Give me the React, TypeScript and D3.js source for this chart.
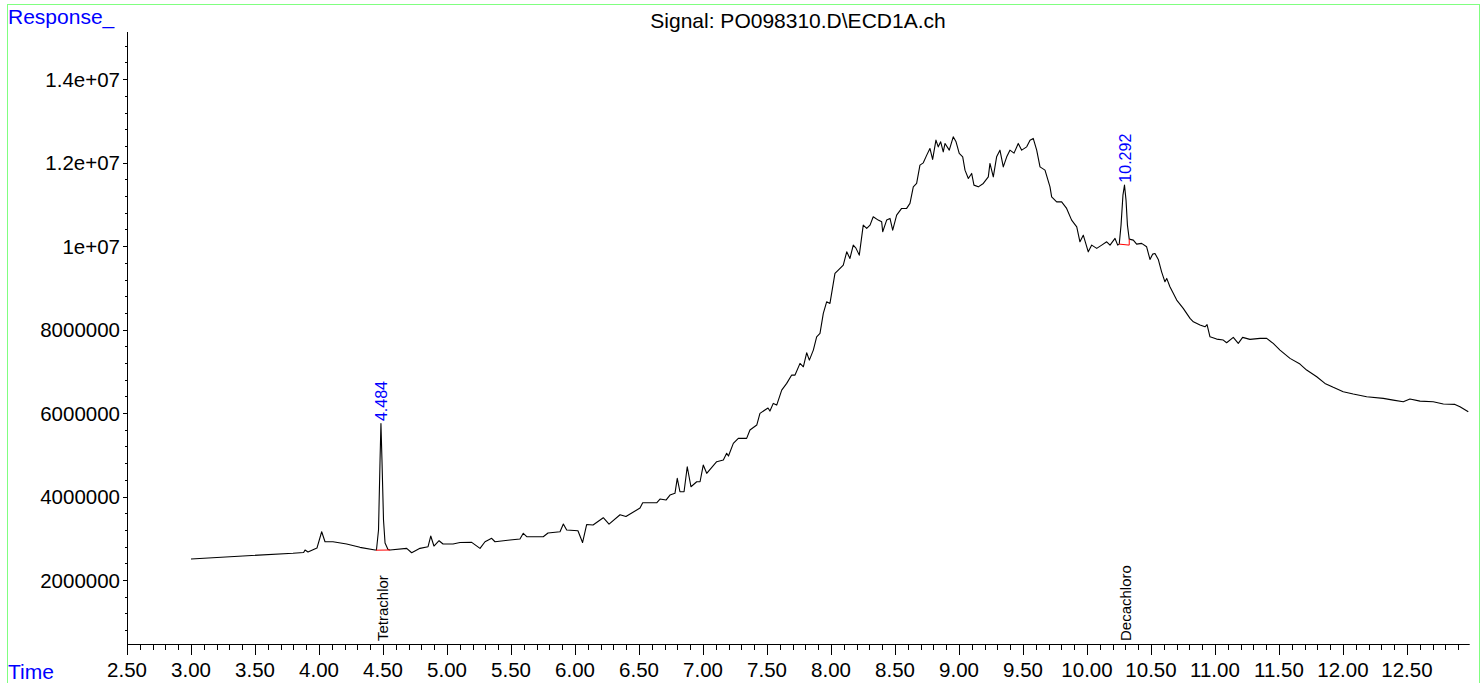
import React from "react";
import * as d3 from "d3";

// ---- Data ----
const timesMin = [
  3.000, 3.406, 3.797, 3.880, 3.891, 3.914, 3.984, 4.021, 4.047, 4.109, 4.216, 4.320, 4.438,
  4.449, 4.465, 4.477, 4.484, 4.492, 4.504, 4.516, 4.539, 4.555, 4.685, 4.724, 4.789, 4.852,
  4.873, 4.898, 4.938, 4.969, 5.047, 5.102, 5.193, 5.258, 5.297, 5.349, 5.375, 5.492, 5.570,
  5.596, 5.623, 5.752, 5.789, 5.883, 5.909, 5.935, 6.023, 6.059, 6.091, 6.141, 6.221, 6.266,
  6.352, 6.398, 6.508, 6.529, 6.638, 6.664, 6.711, 6.742, 6.781, 6.799, 6.820, 6.852, 6.877,
  6.906, 6.951, 6.977, 7.002, 7.029, 7.107, 7.159, 7.185, 7.199, 7.237, 7.276, 7.341, 7.367,
  7.420, 7.445, 7.484, 7.508, 7.523, 7.549, 7.576, 7.615, 7.654, 7.693, 7.719, 7.758, 7.784,
  7.810, 7.831, 7.862, 7.888, 7.914, 7.940, 7.966, 7.992, 8.031, 8.057, 8.096, 8.123, 8.148,
  8.174, 8.195, 8.221, 8.252, 8.279, 8.305, 8.330, 8.369, 8.396, 8.404, 8.435, 8.461, 8.482,
  8.513, 8.552, 8.591, 8.617, 8.643, 8.669, 8.695, 8.721, 8.748, 8.773, 8.794, 8.820, 8.838,
  8.857, 8.877, 8.891, 8.924, 8.955, 8.977, 9.002, 9.029, 9.047, 9.073, 9.099, 9.117, 9.151,
  9.190, 9.229, 9.242, 9.268, 9.294, 9.320, 9.346, 9.373, 9.398, 9.430, 9.463, 9.490, 9.529,
  9.555, 9.580, 9.607, 9.633, 9.672, 9.711, 9.724, 9.763, 9.802, 9.841, 9.880, 9.920, 9.945,
  9.971, 10.010, 10.037, 10.076, 10.115, 10.154, 10.180, 10.219, 10.240, 10.252, 10.266,
  10.281, 10.293, 10.305, 10.316, 10.330, 10.362, 10.388, 10.427, 10.466, 10.492, 10.513,
  10.531, 10.557, 10.583, 10.609, 10.623, 10.648, 10.701, 10.752, 10.805, 10.831, 10.883,
  10.922, 10.938, 10.961, 11.013, 11.065, 11.091, 11.143, 11.182, 11.216, 11.273, 11.352,
  11.404, 11.455, 11.508, 11.586, 11.664, 11.716, 11.795, 11.859, 11.924, 12.002, 12.080,
  12.185, 12.315, 12.393, 12.471, 12.523, 12.602, 12.705, 12.784, 12.875, 12.914, 12.979,
];

// response in millions of counts
const responseMillions = [
  2.503, 2.575, 2.640, 2.660, 2.719, 2.671, 2.766, 3.157, 2.917, 2.917, 2.862, 2.783, 2.719,
  2.719, 3.198, 4.874, 5.749, 4.874, 3.437, 2.886, 2.731, 2.719, 2.759, 2.654, 2.759, 2.798,
  3.054, 2.814, 2.941, 2.862, 2.862, 2.898, 2.903, 2.759, 2.917, 2.999, 2.917, 2.958, 2.982,
  3.119, 3.037, 3.037, 3.126, 3.157, 3.341, 3.198, 3.181, 2.898, 3.329, 3.317, 3.492, 3.341,
  3.564, 3.521, 3.725, 3.851, 3.851, 3.940, 3.916, 4.036, 4.077, 4.436, 4.115, 4.115, 4.714,
  4.235, 4.354, 4.354, 4.754, 4.556, 4.834, 4.874, 5.035, 4.970, 5.274, 5.394, 5.394, 5.593,
  5.713, 5.993, 6.072, 6.120, 6.048, 6.232, 6.192, 6.551, 6.711, 6.910, 6.910, 7.190, 7.109,
  7.444, 7.269, 7.509, 7.828, 7.909, 8.388, 8.666, 8.628, 9.346, 9.425, 9.545, 9.863, 9.705,
  10.024, 9.952, 9.784, 10.503, 10.424, 10.503, 10.702, 10.623, 10.582, 10.343, 10.623, 10.663, 10.383,
  10.743, 10.903, 10.903, 11.023, 11.420, 11.502, 11.940, 11.995, 12.180, 12.340, 12.077, 12.539, 12.378,
  12.498, 12.259, 12.460, 12.299, 12.618, 12.498, 12.220, 12.139, 11.820, 11.621, 11.741, 11.461, 11.420,
  11.502, 11.660, 11.981, 11.660, 12.139, 12.299, 11.899, 12.139, 12.299, 12.228, 12.460, 12.299, 12.378,
  12.539, 12.580, 12.299, 11.899, 11.820, 11.420, 11.181, 11.061, 11.061, 10.903, 10.623, 10.462, 10.103,
  10.263, 9.863, 10.024, 9.945, 10.024, 10.103, 10.024, 10.184, 10.024, 10.048, 10.503,
  11.222, 11.461, 11.102, 10.503, 10.168, 10.144, 10.048, 10.065, 9.983, 9.681, 9.808,
  9.825, 9.681, 9.384, 9.145, 9.226, 9.025, 8.707, 8.508, 8.268, 8.187, 8.108,
  8.067, 8.120, 7.828, 7.772, 7.749, 7.684, 7.813, 7.669, 7.813, 7.765, 7.789,
  7.789, 7.669, 7.509, 7.310, 7.174, 7.030, 6.869, 6.711, 6.616, 6.510, 6.455,
  6.390, 6.352, 6.311, 6.271, 6.335, 6.287, 6.271, 6.216, 6.208, 6.151, 6.031,
];

const peakTimes = [4.484, 10.292];
const peakApexMillions = [5.749, 11.461];
const peakLabels = ["4.484", "10.292"];
const compoundNames = ["Tetrachlor", "Decachloro"];

// integration baselines (red): [time, response(M)] pairs
const baseline1 = [[4.445, 2.715], [4.555, 2.719]];
const baseline2 = [[10.252, 10.048], [10.330, 10.024], [10.330, 10.168]];

const yTickValues = [2e6, 4e6, 6e6, 8e6, 10e6, 12e6, 14e6];
const yTickLabels = ["2000000", "4000000", "6000000", "8000000", "1e+07", "1.2e+07", "1.4e+07"];
const xTickValues = [2.5, 3, 3.5, 4, 4.5, 5, 5.5, 6, 6.5, 7, 7.5, 8, 8.5, 9, 9.5, 10, 10.5, 11, 11.5, 12, 12.5];

const titleText = "Signal: PO098310.D\\ECD1A.ch";

const FONT = "'Liberation Sans', Arial, Helvetica, sans-serif";
const UNIT = 1e6;

export default function App() {
  const W = 1482;
  const H = 683;
  const x = d3.scaleLinear().domain([2.5, 12.99]).range([127, 1469.7]);
  const y = d3.scaleLinear().domain([0.467e6, 15.13e6]).range([644, 32]);

  const pts = timesMin.map((t, i) => [t, responseMillions[i] * UNIT] as [number, number]);
  const line = d3
    .line<[number, number]>()
    .x((d) => x(d[0]))
    .y((d) => y(d[1]));

  const bl = (arr: number[][]) =>
    line(arr.map((d) => [d[0], d[1] * UNIT] as [number, number])) || "";

  const minorX = d3.range(25, 130).map((k) => k / 10);
  const minorY = d3.range(2, 38).map((k) => k * 0.4e6).filter((v) => v >= 0.467e6 && v <= 15.13e6);

  return (
    <svg
      width={W}
      height={H}
      style={{ position: "absolute", left: 0, top: 0, background: "#fff" }}
      fontFamily={FONT}
    >
      <rect x={7.5} y={4.5} width={1472} height={720} fill="none" stroke="#80ff80" strokeWidth={1} />

      <text x={8} y={24} fontSize={21} fill="#0000ff">Response_</text>
      <text x={8} y={679} fontSize={21} fill="#0000ff">Time</text>
      <text x={798} y={27.5} fontSize={21} fill="#000" textAnchor="middle">{titleText}</text>

      {/* Y axis */}
      <line x1={127.5} x2={127.5} y1={32} y2={644} stroke="#000" strokeWidth={1} />
      {minorY.map((v) => (
        <line key={"my" + v} x1={125} x2={127.5} y1={Math.round(y(v)) + 0.5} y2={Math.round(y(v)) + 0.5} stroke="#000" />
      ))}
      {yTickValues.map((v, i) => (
        <g key={"y" + v}>
          <line x1={123} x2={127.5} y1={Math.round(y(v)) + 0.5} y2={Math.round(y(v)) + 0.5} stroke="#000" />
          <text x={120} y={y(v) + 7.5} fontSize={20.5} textAnchor="end" fill="#000">
            {yTickLabels[i]}
          </text>
        </g>
      ))}

      {/* X axis */}
      <line x1={127} x2={1469.7} y1={644.5} y2={644.5} stroke="#000" strokeWidth={1} />
      {minorX.map((t) => (
        <line key={"mx" + t} x1={Math.round(x(t)) + 0.5} x2={Math.round(x(t)) + 0.5} y1={644.5} y2={650} stroke="#000" />
      ))}
      {xTickValues.map((t) => (
        <g key={"x" + t}>
          <line x1={Math.round(x(t)) + 0.5} x2={Math.round(x(t)) + 0.5} y1={644.5} y2={655} stroke="#000" />
          <text x={x(t)} y={677} fontSize={20.5} textAnchor="middle" fill="#000">
            {t.toFixed(2)}
          </text>
        </g>
      ))}

      {/* Signal trace */}
      <path d={line(pts) || ""} fill="none" stroke="#000" strokeWidth={1.1} strokeLinejoin="round" />

      {/* Integration baselines */}
      <path d={bl(baseline1)} fill="none" stroke="#ff0000" strokeWidth={1} />
      <path d={bl(baseline2)} fill="none" stroke="#ff0000" strokeWidth={1} />

      {/* Peak retention-time labels */}
      {peakTimes.map((t, i) => (
        <text
          key={"pl" + i}
          transform={`translate(${x(t) + 6.5},${y(peakApexMillions[i] * UNIT) - 2.5}) rotate(-90)`}
          fontSize={16}
          fill="#0000ff"
        >
          {peakLabels[i]}
        </text>
      ))}

      {/* Compound names */}
      {peakTimes.map((t, i) => (
        <text
          key={"cn" + i}
          transform={`translate(${x(t) + 7},${641}) rotate(-90)`}
          fontSize={15}
          fill="#000"
        >
          {compoundNames[i]}
        </text>
      ))}
    </svg>
  );
}
